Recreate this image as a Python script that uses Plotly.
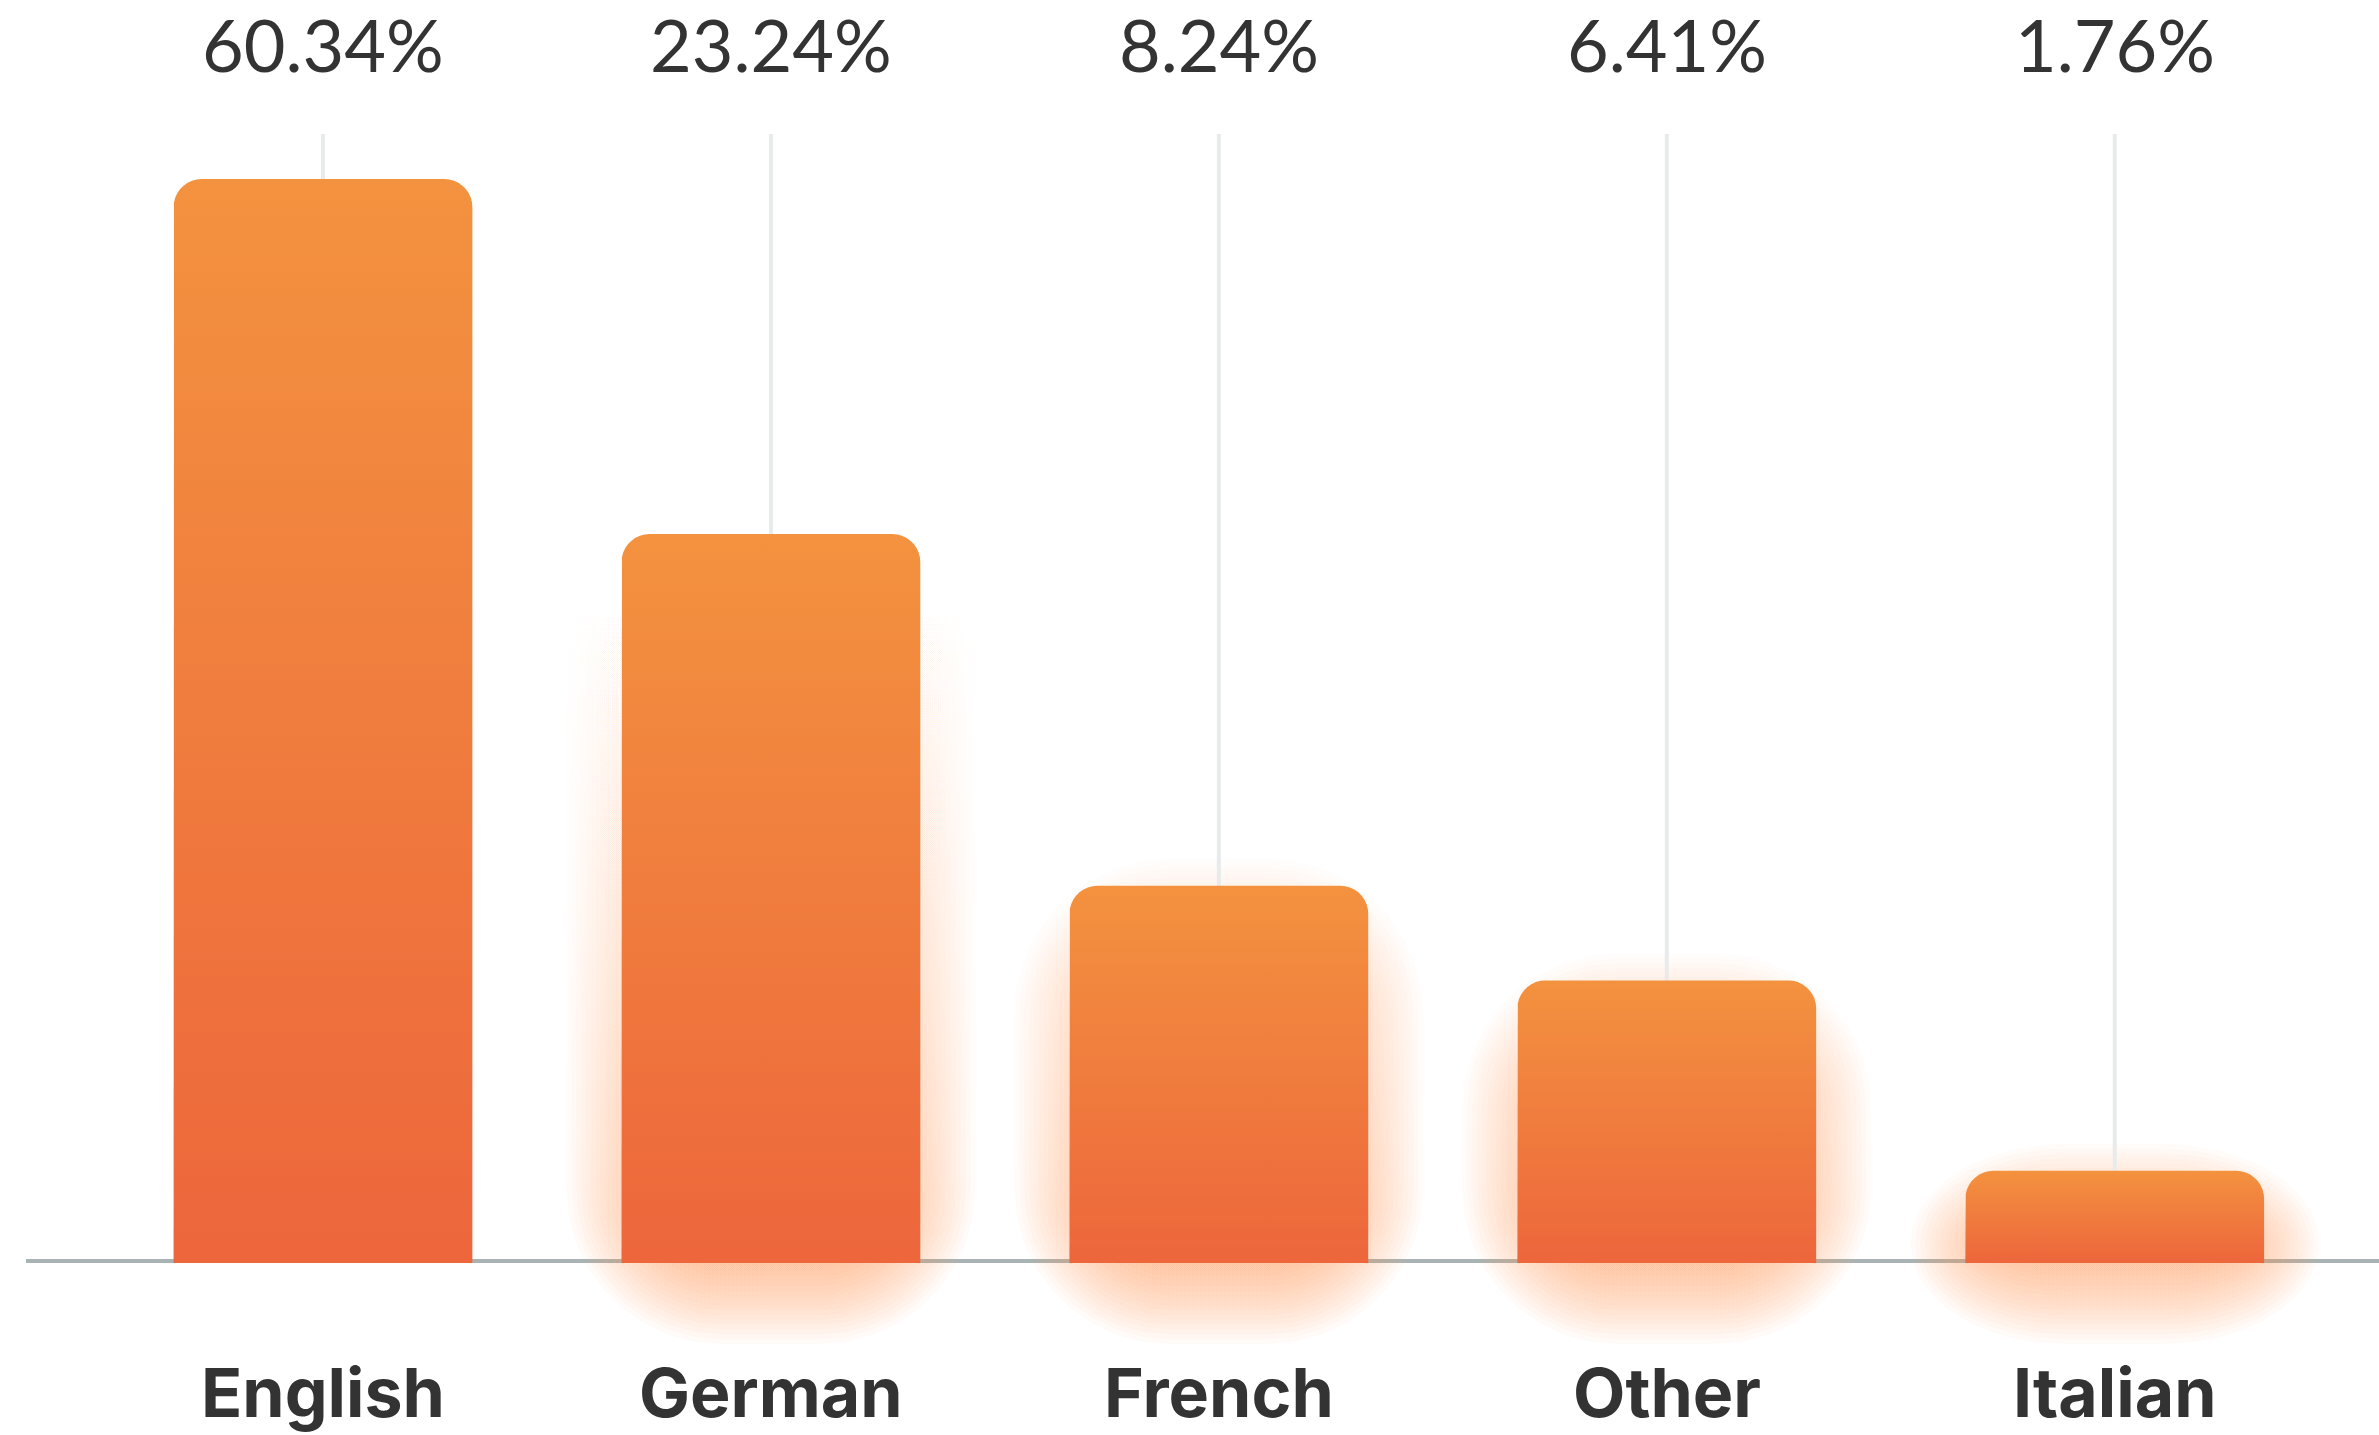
import numpy as np
import plotly.graph_objects as go

# ---- data -------------------------------------------------------------
languages = ["English", "German", "French", "Other", "Italian"]
share_pct = [60.34, 23.24, 8.24, 6.41, 1.76]
# bar heights as drawn in the source (% of the value axis); the source
# does not draw the bars to scale with the printed shares
bar_level = [96.0, 64.5, 33.3, 24.9, 8.0]

# ---- geometry / style -------------------------------------------------
W, H = 2379, 1435
ML, MR, MT, MB = 26, 0, 134, 65
X_RANGE = [-0.663, 4.59]
Y_RANGE = [-9.67, 100]
plot_w = W - ML - MR
plot_h = H - MT - MB
ppx = plot_w / (X_RANGE[1] - X_RANGE[0])   # pixels per x unit
ppy = plot_h / (Y_RANGE[1] - Y_RANGE[0])   # pixels per y unit

BAR_W = 0.667
CORNER = 28          # px
TOP_C, BOT_C = "#F3923F", "#ED663C"
GRID_C = "#E8EBEB"
AXIS_C = "#AAB3B3"
TEXT_C = "#333333"

# soft orange glow, px values; fades out going up from the baseline
GLOW_DY, GLOW_INSET, GLOW_BLUR, GLOW_N = 28, 30, 85, 36
GLOW_ROUND = 70
GLOW_FADE = 680
GLOW_PEAK = 0.75
glow_alpha = 1 - (1 - GLOW_PEAK) ** (1 / GLOW_N)


def arc(cx, cy, rx, ry, a0, a1, n=10):
    t = np.linspace(a0, a1, n)
    return list(cx + rx * np.cos(t)), list(cy + ry * np.sin(t))


def top_rounded_bar(xc, h, base):
    hw = BAR_W / 2
    rx, ry = CORNER / ppx, CORNER / ppy
    xs, ys = [xc - hw, xc - hw], [base, h - ry]
    ax, ay = arc(xc - hw + rx, h - ry, rx, ry, np.pi, np.pi / 2)
    xs += ax; ys += ay
    ax, ay = arc(xc + hw - rx, h - ry, rx, ry, np.pi / 2, 0)
    xs += ax; ys += ay
    xs += [xc + hw, xc - hw]; ys += [base, base]
    return xs, ys


def rounded_rect(x0, x1, y0, y1, r):
    rx, ry = r / ppx, r / ppy
    rx = min(rx, (x1 - x0) / 2); ry = min(ry, (y1 - y0) / 2)
    xs, ys = [], []
    for cx, cy, a0, a1 in [(x1 - rx, y1 - ry, 0, np.pi / 2),
                           (x0 + rx, y1 - ry, np.pi / 2, np.pi),
                           (x0 + rx, y0 + ry, np.pi, 1.5 * np.pi),
                           (x1 - rx, y0 + ry, 1.5 * np.pi, 2 * np.pi)]:
        ax, ay = arc(cx, cy, rx, ry, a0, a1, 10)
        xs += ax; ys += ay
    return xs + [xs[0]], ys + [ys[0]]


fig = go.Figure()

# glow behind every bar but the first
glow_col = "rgba(255,140,70,{a:.4f})"
for i, h in enumerate(bar_level):
    if i == 0:
        continue
    hw_px = BAR_W / 2 * ppx
    for e in np.linspace(-GLOW_BLUR, GLOW_BLUR, GLOW_N):
        half = (hw_px - GLOW_INSET + e) / ppx
        top = h - (GLOW_DY + GLOW_INSET - e) / ppy
        bot = -(GLOW_DY - GLOW_INSET + e) / ppy
        if half <= 0 or top <= bot:
            continue
        xs, ys = rounded_rect(i - half, i + half, bot, top, max(GLOW_ROUND + e, 2))
        fig.add_trace(go.Scatter(
            x=xs, y=ys, mode="lines", fill="toself", line=dict(width=0),
            fillgradient=dict(type="vertical", start=0, stop=GLOW_FADE / ppy,
                              colorscale=[[0, glow_col.format(a=glow_alpha)],
                                          [1, glow_col.format(a=0)]]),
            hoverinfo="skip", showlegend=False))

# vertical guide lines
gx, gy = [], []
for i in range(len(languages)):
    gx += [i, i, None]
    gy += [0, Y_RANGE[1], None]
fig.add_trace(go.Scatter(x=gx, y=gy, mode="lines", line=dict(color=GRID_C, width=4),
                         hoverinfo="skip", showlegend=False))

# bars with vertical gradient and rounded tops
base_off = -2 / ppy
for i, (lang, h) in enumerate(zip(languages, bar_level)):
    xs, ys = top_rounded_bar(i, h, base_off)
    fig.add_trace(go.Scatter(
        x=xs, y=ys, mode="lines", fill="toself", line=dict(width=0),
        fillgradient=dict(type="vertical", start=0, stop=h,
                          colorscale=[[0, BOT_C], [1, TOP_C]]),
        name=lang, hoverinfo="skip", showlegend=False))

annotations = []
for i, (lang, v) in enumerate(zip(languages, share_pct)):
    annotations.append(dict(
        x=i, xref="x", yref="paper", y=(H - MB - 44) / plot_h, yanchor="middle",
        text=f"{v:.2f}%", showarrow=False,
        font=dict(family="Lato", size=72, color=TEXT_C)))
    annotations.append(dict(
        x=i, xref="x", yref="paper", y=(H - MB - 1392) / plot_h, yanchor="middle",
        text=lang, showarrow=False,
        font=dict(family="Inter", size=68, color=TEXT_C, weight=700)))

fig.update_layout(
    width=W, height=H,
    margin=dict(l=ML, r=MR, t=MT, b=MB),
    paper_bgcolor="white", plot_bgcolor="white",
    xaxis=dict(range=X_RANGE, visible=False, fixedrange=True),
    yaxis=dict(range=Y_RANGE, visible=False, fixedrange=True),
    shapes=[dict(type="line", xref="paper", yref="y", x0=0, x1=1, y0=0, y1=0,
                 layer="below", line=dict(color=AXIS_C, width=4))],
    annotations=annotations, showlegend=False,
)

fig.write_html("out.html", config={"displayModeBar": False},
               post_script="document.body.style.margin='0';document.body.style.overflow='hidden';")
